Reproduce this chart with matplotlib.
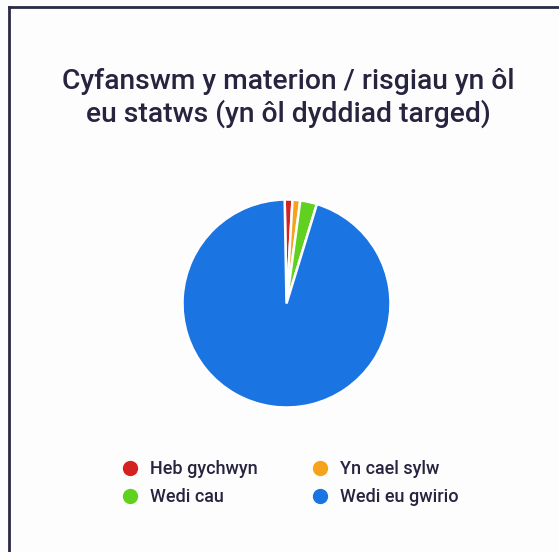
import matplotlib
matplotlib.use("Agg")
import matplotlib.pyplot as plt
from matplotlib.lines import Line2D

categories = ["Heb gychwyn", "Yn cael sylw", "Wedi cau", "Wedi eu gwirio"]
values = [1.2, 1.2, 2.6, 95.0]
colors = ["#d42121", "#f5a31c", "#5fd11e", "#1a74e2"]
title = "Cyfanswm y materion / risgiau yn ôl\neu statws (yn ôl dyddiad targed)"

W, H = 559, 552
fig = plt.figure(figsize=(W / 100, H / 100), dpi=100)
fig.patch.set_facecolor("#fdfdfd")

# border lines (top and left)
fig.add_artist(Line2D([9 / W, 1.0], [1 - 7 / H, 1 - 7 / H], transform=fig.transFigure,
                      color="#2b2a48", lw=2))
fig.add_artist(Line2D([9 / W, 9 / W], [0, 1 - 7 / H], transform=fig.transFigure,
                      color="#2b2a48", lw=2))

fig.text(288 / W, 1 - 98 / H, title, ha="center", va="center", fontsize=20.3,
         family="Roboto", fontweight="medium", color="#26243f", linespacing=1.2)

cx, cy, r = 286.5, 303.5, 104
ax = fig.add_axes([(cx - r) / W, (H - cy - r) / H, 2 * r / W, 2 * r / H])
ax.pie(values, colors=colors, startangle=91, counterclock=False,
       wedgeprops=dict(edgecolor="white", linewidth=1.8))
ax.set_xlim(-1, 1)
ax.set_ylim(-1, 1)
ax.set_aspect("equal")
ax.axis("off")

handles = [Line2D([], [], marker="o", linestyle="none", markersize=10,
                  markerfacecolor=c, markeredgecolor=c) for c in colors]
order = [0, 2, 1, 3]
leg = fig.legend([handles[i] for i in order], [categories[i] for i in order],
                 ncol=2, loc="center", bbox_to_anchor=(291 / W, 1 - 483 / H),
                 frameon=False, prop=dict(family="Roboto", weight="medium", size=13),
                 handlelength=0.8, handletextpad=0.7, columnspacing=3.05,
                 labelspacing=0.55, borderpad=0)
for t in leg.get_texts():
    t.set_color("#26243f")

fig.savefig("out.png", dpi=100, facecolor=fig.get_facecolor())
